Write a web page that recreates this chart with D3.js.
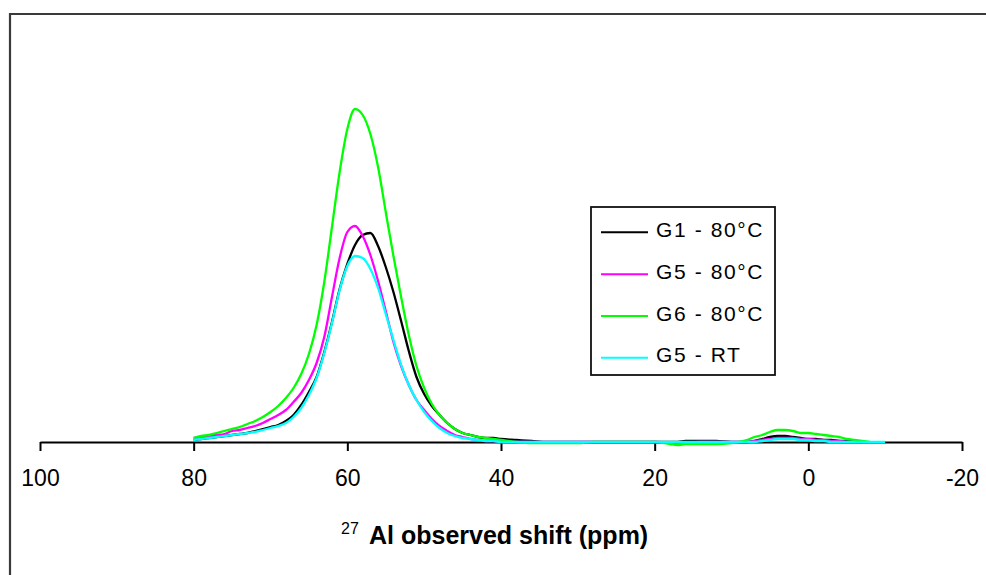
<!DOCTYPE html>
<html>
<head>
<meta charset="utf-8">
<script src="https://cdn.jsdelivr.net/npm/d3@7"></script>
<style>
  html, body { margin: 0; padding: 0; background: #fff; }
  svg { display: block; }
</style>
</head>
<body>
<svg id="chart" width="986" height="575"></svg>
<script>
// ---------- DATA ----------
const ppm = [
  80,79,78,77,76,75,74,73,72,71,70,69,68,67,66,65,64,63,62,61,60,59,58,57,56,55,54,53,52,51,50,49,48,47,46,45,44,43,42,41,40,
  38,36,34,32,30,28,26,24,22,20,18,17,16,14,12,10,
  9,8,7,6,5,4,3,2,1,0,-1,-2,-3,-4,-5,-6,-7,-8,
  -9,-10
];

const g1_80 = [
  2,3,4,5,6,7,8,9,11,13,15,17,21,27,37,50,65,90,120,153,178,197,207,209,196,175,150,121,91,65,48,36,27,19,13,9,7,5,4,4,3,
  2,1,0,0,0,0,0,0,0,0,0,0,1,1,1,0,
  0,0,1,3,5,6,6,5,4,3,3,2,2,1,1,1,0,null,
  null,null
];

const g5_80 = [
  4,5,6,7,8,11,12,14,16,19,23,27,32,40,49,62,79,105,145,184,210,216,206,187,161,131,100,76,57,42,32,23,16,11,7,5,3,2,1,1,0,
  0,0,0,0,0,0,0,0,0,0,-1,-2,-1,0,0,0,
  0,0,1,2,3,4,4,4,3,3,2,2,1,1,0,0,0,null,
  null,null
];

const g6_80 = [
  4,6,7,9,11,13,15,18,21,25,30,36,44,54,68,88,117,160,215,270,313,333,327,308,275,230,186,145,107,76,54,38,27,19,13,9,7,5,4,3,2,
  0,-1,-1,-1,-1,0,0,0,0,0,-2,-3,-2,-2,-2,-1,
  0,2,5,7,10,12,12,11,9,9,8,7,6,5,3,2,1,0,
  null,null
];

const g5_rt = [
  2,3,4,5,6,7,8,9,10,12,14,16,19,25,34,47,64,89,119,152,176,186,184,173,154,128,102,77,57,42,30,21,14,9,6,4,3,2,1,1,0,
  0,0,0,0,0,0,0,0,0,0,0,0,0,0,0,0,
  0,0,0,1,2,3,3,3,2,2,1,1,0,0,0,0,0,0,
  0,0
];

const seriesNames = ["G1 - 80\u00B0C", "G5 - 80\u00B0C", "G6 - 80\u00B0C", "G5 - RT"];
const seriesValues = [g1_80, g5_80, g6_80, g5_rt];
const seriesColors = ["#000000", "#ff00ff", "#00ff00", "#00ffff"];

const xTicks = [100, 80, 60, 40, 20, 0, -20];
const xTickLabels = ["100", "80", "60", "40", "20", "0", "-20"];
const axisTitleSup = "27";
const axisTitleMain = "Al observed shift (ppm)";

// ---------- DRAW ----------
const svg = d3.select("#chart");

const x = d3.scaleLinear().domain([100, -20]).range([40, 962]);
const y = d3.scaleLinear().domain([0, 430]).range([442, 12]);

// outer frame (left and top)
svg.append("path")
  .attr("d", "M10,575 V14 H986")
  .attr("fill", "none")
  .attr("stroke", "#3a3a3a")
  .attr("stroke-width", 2.2);

// x axis
const axis = d3.axisBottom(x)
  .tickValues(xTicks)
  .tickFormat((d, i) => xTickLabels[i])
  .tickSizeInner(9)
  .tickSizeOuter(0)
  .tickPadding(19);

const gAxis = svg.append("g")
  .attr("transform", `translate(0,${y(0)})`)
  .call(axis);
gAxis.select(".domain").attr("stroke", "#000").attr("stroke-width", 2);
gAxis.selectAll(".tick line").attr("stroke", "#000").attr("stroke-width", 2);
gAxis.selectAll(".tick text")
  .attr("fill", "#000")
  .style("font-family", "'Liberation Sans', Arial, sans-serif")
  .style("font-size", "23px");

// curves
const line = d3.line()
  .defined(d => d[1] !== null)
  .x(d => x(d[0]))
  .y(d => y(d[1]))
  .curve(d3.curveMonotoneX);

seriesValues.forEach((vals, i) => {
  const pts = ppm.map((p, j) => [p, vals[j]]);
  svg.append("path")
    .datum(pts)
    .attr("fill", "none")
    .attr("stroke", seriesColors[i])
    .attr("stroke-width", 2.3)
    .attr("stroke-linejoin", "round")
    .attr("d", line);
});

// axis title
const title = svg.append("text")
  .attr("x", 341)
  .attr("y", 543.5)
  .attr("fill", "#000")
  .style("font-family", "'Liberation Sans', Arial, sans-serif");
title.append("tspan")
  .attr("font-size", "16px")
  .attr("dy", "-10")
  .text(axisTitleSup);
title.append("tspan")
  .attr("x", 369)
  .attr("dy", "10")
  .attr("font-size", "25px")
  .attr("font-weight", "bold")
  .text(axisTitleMain);

// legend
const legend = svg.append("g");
legend.append("rect")
  .attr("x", 591).attr("y", 207)
  .attr("width", 184).attr("height", 168)
  .attr("fill", "#fff")
  .attr("stroke", "#111")
  .attr("stroke-width", 1.8);

const rowY = [232.3, 274.3, 316, 357.7];
seriesNames.forEach((name, i) => {
  legend.append("line")
    .attr("x1", 601).attr("x2", 648)
    .attr("y1", rowY[i]).attr("y2", rowY[i])
    .attr("stroke", seriesColors[i])
    .attr("stroke-width", 2);
  legend.append("text")
    .attr("x", 656)
    .attr("y", rowY[i] + 4.5)
    .attr("fill", "#000")
    .style("font-family", "'Liberation Sans', Arial, sans-serif")
    .style("font-size", "21px")
    .style("letter-spacing", "1.6px")
    .text(name);
});
</script>
</body>
</html>
